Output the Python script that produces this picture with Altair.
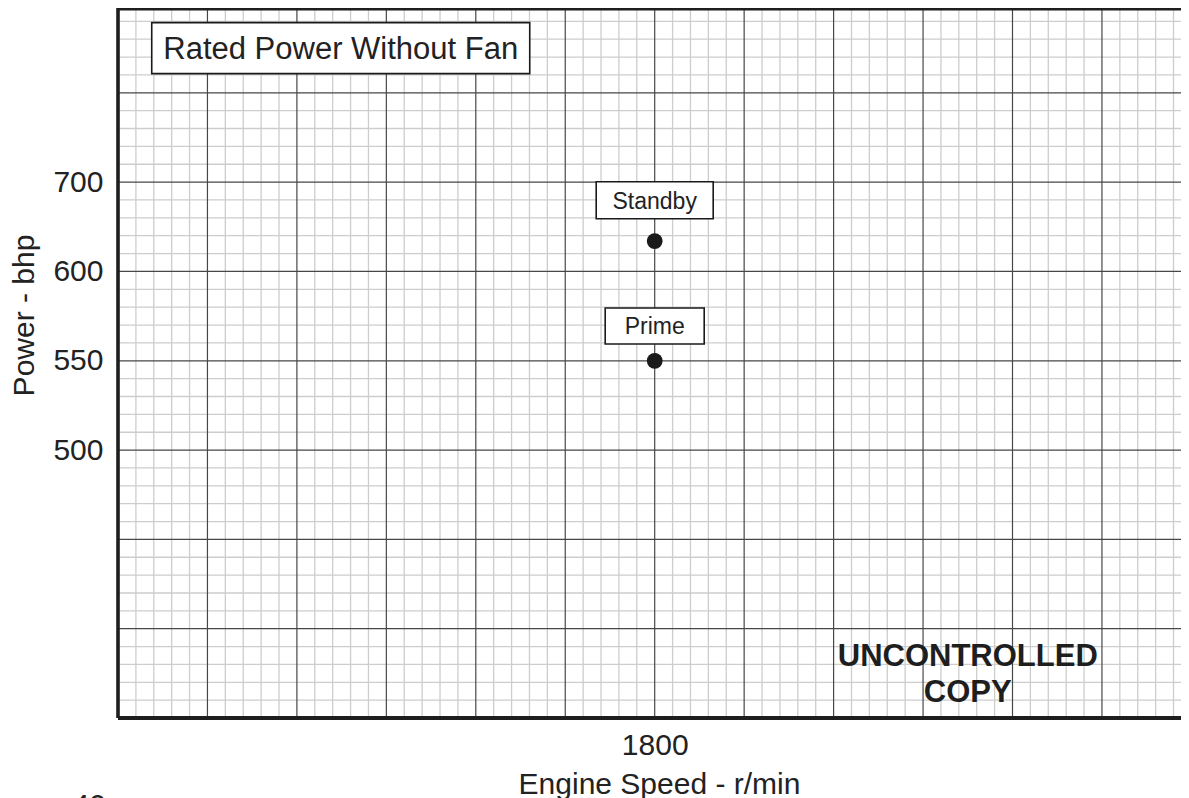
import altair as alt
import pandas as pd

FONT = "Liberation Sans"
INK = "#222222"

# ---------------- data ----------------
ratings = ["Standby", "Prime"]
speed_rpm = [1800, 1800]
power_bhp = [634, 550]
label_power = [679.6, 569.5]          # centre of each rating's label box (bhp)

x_tick_values = [1800]
y_tick_values = [500, 550, 600, 700]

# graph-paper grid (major every 100 r/min; minor 5 per major)
x_major = [1200, 1300, 1400, 1500, 1600, 1700, 1800, 1900, 2000, 2100, 2200, 2300, 2400]
y_major = [350, 400, 450, 500, 550, 600, 700, 800, 900]
x_minor = [v for v in range(1200, 2401, 20) if v % 100]
y_minor = [v for v in range(350, 600, 10) if v % 50] + [v for v in range(600, 900, 20) if v % 100]

note_text = ["Rated Power Without Fan"]
note_x = [1449]
note_y = [850]

stamp_text = ["UNCONTROLLED", "COPY"]
stamp_x = [2150, 2150]
stamp_y = [385, 364.6]

page_text = ["40"]
page_x = [1168]
page_y = [295.8]

# ---------------- scales & axes ----------------
xs = alt.Scale(domain=[1200, 2400], range=[0, 1073.4], nice=False, zero=False)
# the printed grid is labelled non-uniformly (700, 600, 550, 500 on equally spaced lines)
ys = alt.Scale(domain=[350, 500, 550, 600, 700, 900],
               range=[710, 442.1, 352.8, 263.4, 174.1, -4.5],
               nice=False, zero=False)

x_axis = alt.Axis(values=x_tick_values, format="d", title="Engine Speed - r/min",
                  ticks=False, domain=False, grid=False, labelFlush=False,
                  labelFont=FONT, labelFontSize=30, labelColor=INK, labelPadding=12,
                  titleFont=FONT, titleFontSize=30, titleFontWeight="normal", titleColor=INK,
                  titleX=541, titleY=75, titleBaseline="alphabetic", titleAlign="center")
y_axis = alt.Axis(values=y_tick_values, format="d", title="Power - bhp",
                  ticks=False, domain=False, grid=False, labelFlush=False,
                  labelFont=FONT, labelFontSize=30, labelColor=INK, labelPadding=15,
                  titleFont=FONT, titleFontSize=30, titleFontWeight="normal", titleColor=INK,
                  titleAngle=270, titleX=-84.5, titleY=307,
                  titleBaseline="alphabetic", titleAlign="center")


def X(field):
    return alt.X(f"{field}:Q", scale=xs, axis=x_axis)


def Y(field):
    return alt.Y(f"{field}:Q", scale=ys, axis=y_axis)


df_pts = pd.DataFrame({"rating": ratings, "rpm": speed_rpm, "bhp": power_bhp, "lab": label_power})


def vrules(vals, color, width):
    return alt.Chart(pd.DataFrame({"x": vals})).mark_rule(color=color, strokeWidth=width).encode(x=X("x"))


def hrules(vals, color, width):
    return alt.Chart(pd.DataFrame({"y": vals})).mark_rule(color=color, strokeWidth=width).encode(y=Y("y"))


minor_v = vrules(x_minor, "#cdcdcd", 1.3)
minor_h = hrules(y_minor, "#cdcdcd", 1.3)
major_v = vrules(x_major, "#474747", 1.2)
major_h = hrules(y_major, "#474747", 1.2)

frame_left = vrules([x_major[0]], "#1e1e1e", 3.6)
frame_bottom = hrules([y_major[0]], "#1e1e1e", 3.8)
frame_top = alt.Chart(pd.DataFrame({"k": [0]})).mark_rule(color="#1e1e1e", strokeWidth=5).encode(
    y=alt.value(0))

points = alt.Chart(df_pts).mark_circle(size=250, color="#1a1a1a", opacity=1).encode(
    x=X("rpm"), y=Y("bhp"))


def box(df, xf, yf, w, h):
    return alt.Chart(df).mark_rect(width=w, height=h, fill="white", stroke="#1a1a1a",
                                   strokeWidth=1.6).encode(x=X(xf), y=Y(yf))


standby_box = box(df_pts[df_pts.rating == "Standby"], "rpm", "lab", 117, 37)
prime_box = box(df_pts[df_pts.rating == "Prime"], "rpm", "lab", 99, 36)
rating_text = alt.Chart(df_pts).mark_text(font=FONT, fontSize=23, color=INK,
                                          baseline="middle", dy=1.5).encode(
    x=X("rpm"), y=Y("lab"), text="rating:N")

df_note = pd.DataFrame({"t": note_text, "x": note_x, "y": note_y})
note_box = box(df_note, "x", "y", 378, 51)
note_lbl = alt.Chart(df_note).mark_text(font=FONT, fontSize=31, color=INK,
                                        baseline="middle", dy=1.5).encode(
    x=X("x"), y=Y("y"), text="t:N")

df_stamp = pd.DataFrame({"t": stamp_text, "x": stamp_x, "y": stamp_y})
stamp = alt.Chart(df_stamp).mark_text(font=FONT, fontSize=31, fontWeight="bold", color="#1e1e1e",
                                      baseline="middle", dy=1.5).encode(
    x=X("x"), y=Y("y"), text="t:N")

df_page = pd.DataFrame({"t": page_text, "x": page_x, "y": page_y})
page_num = alt.Chart(df_page).mark_text(font=FONT, fontSize=30, color=INK,
                                        baseline="alphabetic").encode(
    x=X("x"), y=Y("y"), text="t:N")

chart = alt.layer(
    minor_v, minor_h, major_v, major_h,
    frame_left, frame_bottom, frame_top,
    note_box, note_lbl,
    standby_box, prime_box, rating_text,
    points, stamp, page_num,
).properties(
    width=1063, height=710,
    padding={"left": 110, "top": 0, "right": 0, "bottom": 80},
    autosize=alt.AutoSizeParams(type="none"),
    background="white",
).configure_view(stroke=None)

chart.save("out.html", embed_options={"renderer": "svg", "actions": False})
